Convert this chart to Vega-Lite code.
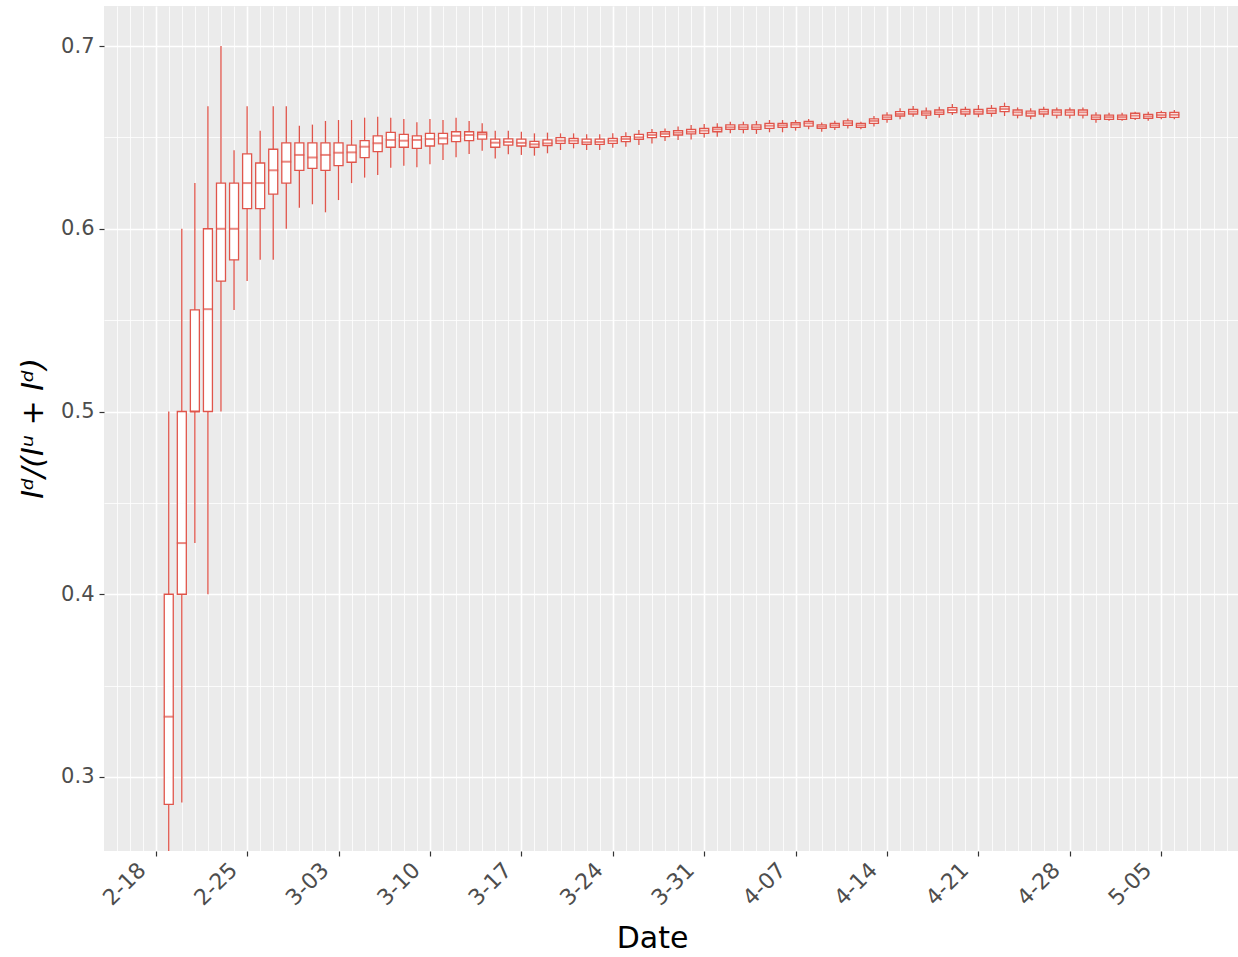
{
  "$schema": "https://vega.github.io/schema/vega-lite/v6.json",
  "width": 1134,
  "height": 845,
  "autosize": {"type": "none"},
  "padding": {"left": 104, "top": 6, "right": 0, "bottom": 106},
  "background": "white",
  "config": {
    "view": {"fill": "#EBEBEB", "stroke": null},
    "font": "DejaVu Sans"
  },
  "data": {
    "values": [
      {"d": "2020-02-19T00:00:00Z", "lo": 0.2, "q1": 0.285, "md": 0.333, "q3": 0.4, "hi": 0.5},
      {"d": "2020-02-20T00:00:00Z", "lo": 0.286, "q1": 0.4, "md": 0.428, "q3": 0.5, "hi": 0.6},
      {"d": "2020-02-21T00:00:00Z", "lo": 0.428, "q1": 0.5, "md": 0.5, "q3": 0.5556, "hi": 0.625},
      {"d": "2020-02-22T00:00:00Z", "lo": 0.4, "q1": 0.5, "md": 0.556, "q3": 0.6, "hi": 0.667},
      {"d": "2020-02-23T00:00:00Z", "lo": 0.5, "q1": 0.5714, "md": 0.6, "q3": 0.625, "hi": 0.7},
      {"d": "2020-02-24T00:00:00Z", "lo": 0.5556, "q1": 0.583, "md": 0.6, "q3": 0.625, "hi": 0.643},
      {"d": "2020-02-25T00:00:00Z", "lo": 0.5714, "q1": 0.611, "md": 0.625, "q3": 0.641, "hi": 0.667},
      {"d": "2020-02-26T00:00:00Z", "lo": 0.583, "q1": 0.611, "md": 0.625, "q3": 0.636, "hi": 0.6537},
      {"d": "2020-02-27T00:00:00Z", "lo": 0.583, "q1": 0.619, "md": 0.632, "q3": 0.6435, "hi": 0.667},
      {"d": "2020-02-28T00:00:00Z", "lo": 0.6, "q1": 0.625, "md": 0.6367, "q3": 0.647, "hi": 0.667},
      {"d": "2020-02-29T00:00:00Z", "lo": 0.6115, "q1": 0.632, "md": 0.6404, "q3": 0.647, "hi": 0.6564},
      {"d": "2020-03-01T00:00:00Z", "lo": 0.6134, "q1": 0.633, "md": 0.639, "q3": 0.647, "hi": 0.657},
      {"d": "2020-03-02T00:00:00Z", "lo": 0.609, "q1": 0.632, "md": 0.6404, "q3": 0.647, "hi": 0.659},
      {"d": "2020-03-03T00:00:00Z", "lo": 0.6157, "q1": 0.6345, "md": 0.6416, "q3": 0.647, "hi": 0.6595},
      {"d": "2020-03-04T00:00:00Z", "lo": 0.625, "q1": 0.6364, "md": 0.6418, "q3": 0.6458, "hi": 0.6595},
      {"d": "2020-03-05T00:00:00Z", "lo": 0.628, "q1": 0.6389, "md": 0.6449, "q3": 0.6482, "hi": 0.6608},
      {"d": "2020-03-06T00:00:00Z", "lo": 0.6294, "q1": 0.6422, "md": 0.6468, "q3": 0.6508, "hi": 0.6613},
      {"d": "2020-03-07T00:00:00Z", "lo": 0.6334, "q1": 0.6446, "md": 0.6486, "q3": 0.6527, "hi": 0.6608},
      {"d": "2020-03-08T00:00:00Z", "lo": 0.6345, "q1": 0.6446, "md": 0.6482, "q3": 0.6517, "hi": 0.66},
      {"d": "2020-03-09T00:00:00Z", "lo": 0.6336, "q1": 0.644, "md": 0.6486, "q3": 0.6508, "hi": 0.6583},
      {"d": "2020-03-10T00:00:00Z", "lo": 0.6353, "q1": 0.6453, "md": 0.6491, "q3": 0.6522, "hi": 0.66},
      {"d": "2020-03-11T00:00:00Z", "lo": 0.6376, "q1": 0.6464, "md": 0.6495, "q3": 0.6522, "hi": 0.6595},
      {"d": "2020-03-12T00:00:00Z", "lo": 0.6391, "q1": 0.6477, "md": 0.6509, "q3": 0.6531, "hi": 0.6608},
      {"d": "2020-03-13T00:00:00Z", "lo": 0.6409, "q1": 0.6482, "md": 0.6513, "q3": 0.6531, "hi": 0.659},
      {"d": "2020-03-14T00:00:00Z", "lo": 0.6427, "q1": 0.649, "md": 0.6517, "q3": 0.6528, "hi": 0.6577},
      {"d": "2020-03-15T00:00:00Z", "lo": 0.6385, "q1": 0.6446, "md": 0.6471, "q3": 0.649, "hi": 0.6537},
      {"d": "2020-03-16T00:00:00Z", "lo": 0.6408, "q1": 0.6458, "md": 0.6475, "q3": 0.6492, "hi": 0.6536},
      {"d": "2020-03-17T00:00:00Z", "lo": 0.6404, "q1": 0.6453, "md": 0.647, "q3": 0.6491, "hi": 0.6531},
      {"d": "2020-03-18T00:00:00Z", "lo": 0.64, "q1": 0.6446, "md": 0.6462, "q3": 0.6478, "hi": 0.6522},
      {"d": "2020-03-19T00:00:00Z", "lo": 0.6413, "q1": 0.6455, "md": 0.6467, "q3": 0.6486, "hi": 0.6526},
      {"d": "2020-03-20T00:00:00Z", "lo": 0.6431, "q1": 0.6467, "md": 0.6482, "q3": 0.6499, "hi": 0.6522},
      {"d": "2020-03-21T00:00:00Z", "lo": 0.644, "q1": 0.6467, "md": 0.6482, "q3": 0.6495, "hi": 0.6522},
      {"d": "2020-03-22T00:00:00Z", "lo": 0.6431, "q1": 0.6462, "md": 0.6473, "q3": 0.6491, "hi": 0.6517},
      {"d": "2020-03-23T00:00:00Z", "lo": 0.6431, "q1": 0.6462, "md": 0.6475, "q3": 0.6491, "hi": 0.6517},
      {"d": "2020-03-24T00:00:00Z", "lo": 0.6444, "q1": 0.6467, "md": 0.6482, "q3": 0.6495, "hi": 0.6522},
      {"d": "2020-03-25T00:00:00Z", "lo": 0.6449, "q1": 0.6477, "md": 0.6491, "q3": 0.6504, "hi": 0.6528},
      {"d": "2020-03-26T00:00:00Z", "lo": 0.6458, "q1": 0.6489, "md": 0.65, "q3": 0.6517, "hi": 0.654},
      {"d": "2020-03-27T00:00:00Z", "lo": 0.6467, "q1": 0.6499, "md": 0.6513, "q3": 0.6526, "hi": 0.6546},
      {"d": "2020-03-28T00:00:00Z", "lo": 0.648, "q1": 0.6504, "md": 0.6519, "q3": 0.6531, "hi": 0.6549},
      {"d": "2020-03-29T00:00:00Z", "lo": 0.6486, "q1": 0.6513, "md": 0.6526, "q3": 0.6537, "hi": 0.6559},
      {"d": "2020-03-30T00:00:00Z", "lo": 0.6489, "q1": 0.6519, "md": 0.6531, "q3": 0.6544, "hi": 0.6568},
      {"d": "2020-03-31T00:00:00Z", "lo": 0.6499, "q1": 0.6522, "md": 0.6537, "q3": 0.6549, "hi": 0.6573},
      {"d": "2020-04-01T00:00:00Z", "lo": 0.6504, "q1": 0.6531, "md": 0.6544, "q3": 0.6555, "hi": 0.6577},
      {"d": "2020-04-02T00:00:00Z", "lo": 0.6522, "q1": 0.6544, "md": 0.6555, "q3": 0.6568, "hi": 0.6586},
      {"d": "2020-04-03T00:00:00Z", "lo": 0.6522, "q1": 0.6544, "md": 0.6555, "q3": 0.6568, "hi": 0.6586},
      {"d": "2020-04-04T00:00:00Z", "lo": 0.6519, "q1": 0.6544, "md": 0.6555, "q3": 0.6568, "hi": 0.659},
      {"d": "2020-04-05T00:00:00Z", "lo": 0.6528, "q1": 0.6549, "md": 0.6564, "q3": 0.6577, "hi": 0.6595},
      {"d": "2020-04-06T00:00:00Z", "lo": 0.6528, "q1": 0.6555, "md": 0.6566, "q3": 0.6577, "hi": 0.6595},
      {"d": "2020-04-07T00:00:00Z", "lo": 0.6537, "q1": 0.6555, "md": 0.657, "q3": 0.658, "hi": 0.6595},
      {"d": "2020-04-08T00:00:00Z", "lo": 0.6544, "q1": 0.6562, "md": 0.6577, "q3": 0.6588, "hi": 0.6601},
      {"d": "2020-04-09T00:00:00Z", "lo": 0.6531, "q1": 0.6549, "md": 0.6559, "q3": 0.6568, "hi": 0.6581},
      {"d": "2020-04-10T00:00:00Z", "lo": 0.654, "q1": 0.6555, "md": 0.6566, "q3": 0.6577, "hi": 0.6591},
      {"d": "2020-04-11T00:00:00Z", "lo": 0.6549, "q1": 0.6566, "md": 0.6578, "q3": 0.659, "hi": 0.6604},
      {"d": "2020-04-12T00:00:00Z", "lo": 0.6544, "q1": 0.6555, "md": 0.6566, "q3": 0.6577, "hi": 0.6586},
      {"d": "2020-04-13T00:00:00Z", "lo": 0.6559, "q1": 0.6577, "md": 0.659, "q3": 0.6601, "hi": 0.6617},
      {"d": "2020-04-14T00:00:00Z", "lo": 0.658, "q1": 0.6599, "md": 0.661, "q3": 0.6622, "hi": 0.6637},
      {"d": "2020-04-15T00:00:00Z", "lo": 0.6599, "q1": 0.6617, "md": 0.6628, "q3": 0.6641, "hi": 0.6659},
      {"d": "2020-04-16T00:00:00Z", "lo": 0.6613, "q1": 0.6628, "md": 0.6641, "q3": 0.6653, "hi": 0.6672},
      {"d": "2020-04-17T00:00:00Z", "lo": 0.6601, "q1": 0.6622, "md": 0.6633, "q3": 0.6644, "hi": 0.6663},
      {"d": "2020-04-18T00:00:00Z", "lo": 0.6608, "q1": 0.6626, "md": 0.6637, "q3": 0.665, "hi": 0.6668},
      {"d": "2020-04-19T00:00:00Z", "lo": 0.6622, "q1": 0.6635, "md": 0.665, "q3": 0.6663, "hi": 0.6683},
      {"d": "2020-04-20T00:00:00Z", "lo": 0.6613, "q1": 0.6628, "md": 0.6641, "q3": 0.6653, "hi": 0.6668},
      {"d": "2020-04-21T00:00:00Z", "lo": 0.661, "q1": 0.6628, "md": 0.6641, "q3": 0.6653, "hi": 0.6677},
      {"d": "2020-04-22T00:00:00Z", "lo": 0.6613, "q1": 0.6632, "md": 0.6646, "q3": 0.6659, "hi": 0.6677},
      {"d": "2020-04-23T00:00:00Z", "lo": 0.6617, "q1": 0.6641, "md": 0.6655, "q3": 0.6668, "hi": 0.669},
      {"d": "2020-04-24T00:00:00Z", "lo": 0.6604, "q1": 0.6622, "md": 0.6637, "q3": 0.665, "hi": 0.6664},
      {"d": "2020-04-25T00:00:00Z", "lo": 0.6599, "q1": 0.6617, "md": 0.6632, "q3": 0.6644, "hi": 0.6659},
      {"d": "2020-04-26T00:00:00Z", "lo": 0.661, "q1": 0.6628, "md": 0.6641, "q3": 0.6653, "hi": 0.6668},
      {"d": "2020-04-27T00:00:00Z", "lo": 0.6604, "q1": 0.6622, "md": 0.6637, "q3": 0.665, "hi": 0.6664},
      {"d": "2020-04-28T00:00:00Z", "lo": 0.6604, "q1": 0.6622, "md": 0.6637, "q3": 0.665, "hi": 0.6664},
      {"d": "2020-04-29T00:00:00Z", "lo": 0.6604, "q1": 0.6622, "md": 0.6637, "q3": 0.665, "hi": 0.6664},
      {"d": "2020-04-30T00:00:00Z", "lo": 0.658, "q1": 0.6599, "md": 0.661, "q3": 0.6622, "hi": 0.6637},
      {"d": "2020-05-01T00:00:00Z", "lo": 0.6591, "q1": 0.6599, "md": 0.6611, "q3": 0.6622, "hi": 0.6635},
      {"d": "2020-05-02T00:00:00Z", "lo": 0.6591, "q1": 0.6599, "md": 0.6611, "q3": 0.6622, "hi": 0.6635},
      {"d": "2020-05-03T00:00:00Z", "lo": 0.6595, "q1": 0.6604, "md": 0.6619, "q3": 0.6632, "hi": 0.6641},
      {"d": "2020-05-04T00:00:00Z", "lo": 0.6591, "q1": 0.6604, "md": 0.6615, "q3": 0.6626, "hi": 0.6641},
      {"d": "2020-05-05T00:00:00Z", "lo": 0.6599, "q1": 0.661, "md": 0.6622, "q3": 0.6635, "hi": 0.6646},
      {"d": "2020-05-06T00:00:00Z", "lo": 0.6599, "q1": 0.661, "md": 0.6624, "q3": 0.6637, "hi": 0.665}
    ]
  },
  "layer": [
    {
      "mark": {"type": "rule", "color": "#E0554B", "strokeWidth": 1.3, "clip": true},
      "encoding": {
        "x": {
          "field": "d", "type": "temporal",
          "scale": {"type": "utc", "nice": false, "padding": 0, "domain": [{"year": 2020, "month": 2, "date": 14, "hours": 1, "utc": true}, {"year": 2020, "month": 5, "date": 10, "hours": 21, "utc": true}]},
          "axis": {
            "orient": "bottom",
            "tickCount": {"interval": "day", "step": 1},
            "labelExpr": "utcday(datum.value) == 2 ? utcFormat(datum.value, '%-m-%d') : ''",
            "labelOverlap": false, "labelBound": false, "labelFlush": false,
            "grid": true, "gridColor": "#FFFFFF",
            "gridWidth": {"condition": {"test": "utcday(datum.value) == 2", "value": 1.6}, "value": 0.8},
            "domain": false, "ticks": true, "tickColor": "#333333", "tickWidth": 1.2, "tickSize": 5,
            "tickOpacity": {"condition": {"test": "utcday(datum.value) == 2", "value": 1}, "value": 0},
            "labelAngle": -45, "labelAlign": "right", "labelBaseline": "top", "labelPadding": 3, "labelOffset": -21,
            "labelFont": "DejaVu Sans", "labelFontSize": 22, "labelColor": "#4D4D4D",
            "title": "Date", "titleFont": "DejaVu Sans", "titleFontSize": 30, "titleFontWeight": "normal", "titleColor": "#000000",
            "titleX": 548, "titleY": 96, "titleBaseline": "alphabetic", "titleAnchor": null
          }
        },
        "y": {
          "field": "lo", "type": "quantitative",
          "scale": {"domain": [0.2595, 0.7219], "nice": false, "zero": false, "padding": 0},
          "axis": {
            "orient": "left",
            "values": [0.25, 0.3, 0.35, 0.4, 0.45, 0.5, 0.55, 0.6, 0.65, 0.7],
            "labelExpr": "round(datum.value * 20) % 2 == 0 ? format(datum.value, '.1f') : ''",
            "labelOverlap": false,
            "grid": true, "gridColor": "#FFFFFF",
            "gridWidth": {"condition": {"test": "round(datum.value * 20) % 2 == 0", "value": 1.6}, "value": 0.8},
            "domain": false, "ticks": true, "tickColor": "#333333", "tickWidth": 1.2, "tickSize": 5,
            "tickOpacity": {"condition": {"test": "round(datum.value * 20) % 2 == 0", "value": 1}, "value": 0},
            "labelFont": "DejaVu Sans", "labelFontSize": 21, "labelColor": "#4D4D4D", "labelPadding": 5,
            "title": "Iᵈ/(Iᵘ + Iᵈ)", "titleFont": "DejaVu Sans", "titleFontSize": 30, "titleFontStyle": "italic", "titleFontWeight": "normal", "titleColor": "#000000",
            "titleAngle": -90, "titleX": -62, "titleY": 422, "titleAlign": "center", "titleBaseline": "alphabetic"
          }
        },
        "y2": {"field": "hi"}
      }
    },
    {
      "mark": {"type": "bar", "fill": "#FFFFFF", "stroke": "#E0554B", "strokeWidth": 1.3, "width": 9, "clip": true},
      "encoding": {
        "x": {"field": "d", "type": "temporal"},
        "y": {"field": "q1", "type": "quantitative"},
        "y2": {"field": "q3"}
      }
    },
    {
      "mark": {"type": "tick", "orient": "horizontal", "color": "#E0554B", "thickness": 2, "size": 10, "clip": true},
      "encoding": {
        "x": {"field": "d", "type": "temporal"},
        "y": {"field": "md", "type": "quantitative"}
      }
    }
  ]
}
